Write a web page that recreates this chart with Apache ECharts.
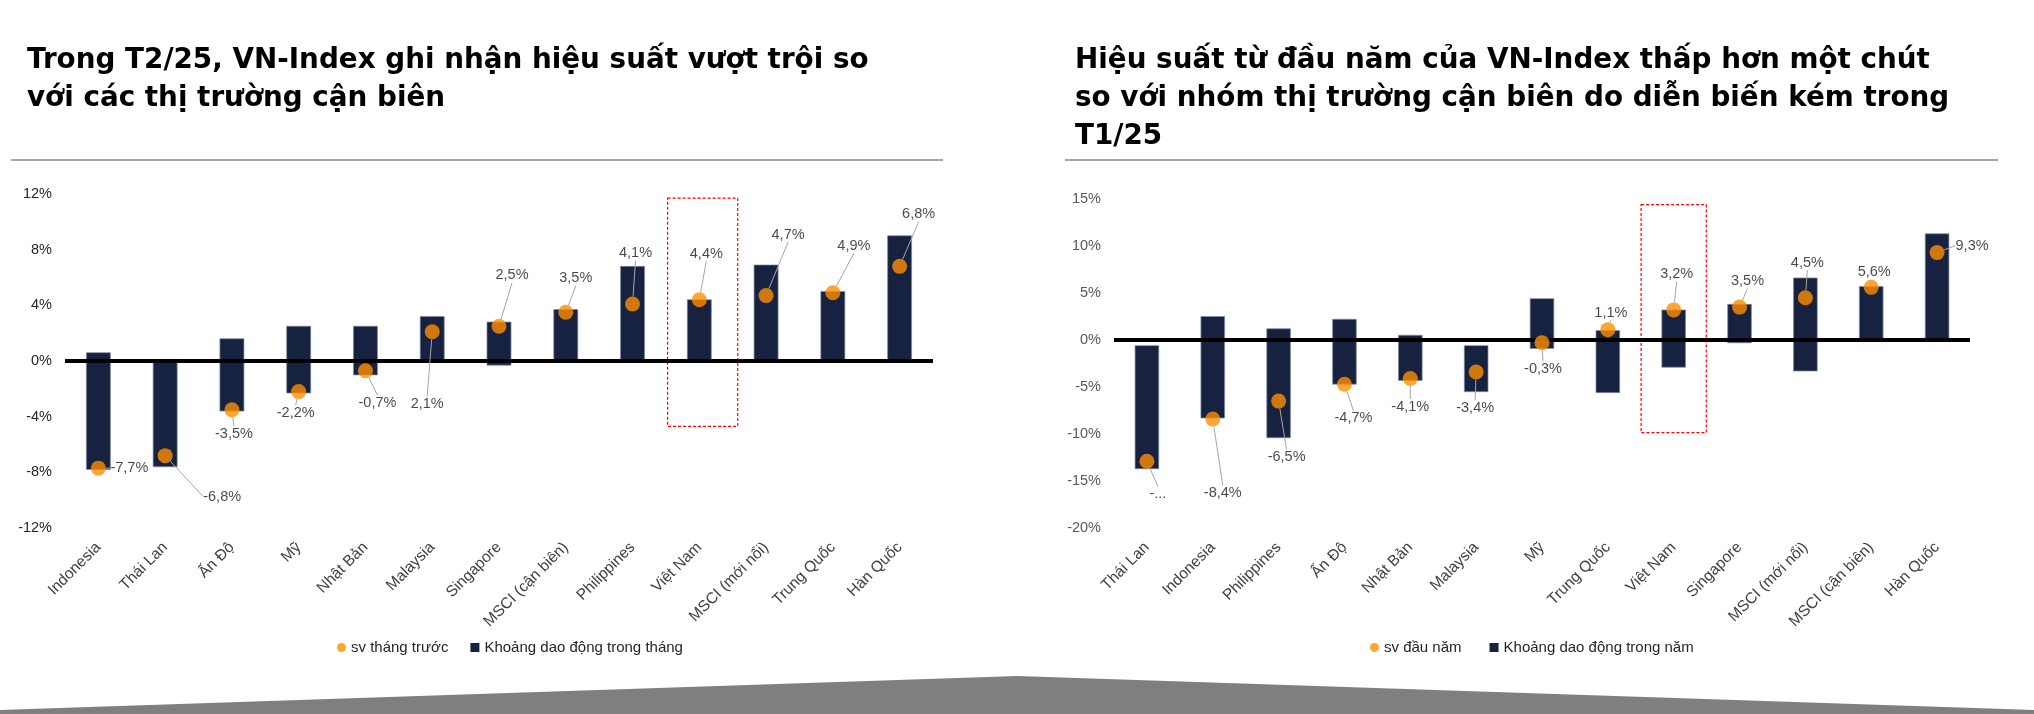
<!DOCTYPE html>
<html>
<head>
<meta charset="utf-8">
<script src="https://cdn.jsdelivr.net/npm/echarts@6/dist/echarts.min.js"></script>
<style>
html,body{margin:0;padding:0;background:#fff;}
#c{width:2034px;height:714px;}
</style>
</head>
<body>
<div id="c"></div>
<script>
// ---------- DATA ----------
const title1 = 'Trong T2/25, VN-Index ghi nhận hiệu suất vượt trội so\nvới các thị trường cận biên';
const title2 = 'Hiệu suất từ đầu năm của VN-Index thấp hơn một chút\nso với nhóm thị trường cận biên do diễn biến kém trong\nT1/25';

const cats1 = ['Indonesia','Thái Lan','Ấn Độ','Mỹ','Nhật Bản','Malaysia','Singapore','MSCI (cận biên)','Philippines','Việt Nam','MSCI (mới nổi)','Trung Quốc','Hàn Quốc'];
const dots1 = [-7.7,-6.8,-3.5,-2.2,-0.7,2.1,2.5,3.5,4.1,4.4,4.7,4.9,6.8];
const low1  = [-7.8,-7.6,-3.6,-2.3,-1.0,0,-0.3,0,0,0,0,0,0];
const high1 = [0.6,0,1.6,2.5,2.5,3.2,2.8,3.7,6.8,4.4,6.9,5.0,9.0];
const yTicks1 = {min:-12, max:12, interval:4};

const cats2 = ['Thái Lan','Indonesia','Philippines','Ấn Độ','Nhật Bản','Malaysia','Mỹ','Trung Quốc','Việt Nam','Singapore','MSCI (mới nổi)','MSCI (cận biên)','Hàn Quốc'];
const dots2 = [-12.9,-8.4,-6.5,-4.7,-4.1,-3.4,-0.3,1.1,3.2,3.5,4.5,5.6,9.3];
const low2  = [-13.7,-8.3,-10.4,-4.7,-4.3,-5.5,-0.9,-5.6,-2.9,-0.3,-3.3,0,0];
const high2 = [-0.6,2.5,1.2,2.2,0.5,-0.6,4.4,1.0,3.2,3.8,6.6,5.7,11.3];
const yTicks2 = {min:-20, max:15, interval:5};
const truncatedCat2 = 'Thái Lan';   // its label is shown cut off as "-..."

const legend1 = ['sv tháng trước','Khoảng dao động trong tháng'];
const legend2 = ['sv đầu năm','Khoảng dao động trong năm'];

const highlightCat = 'Việt Nam';
const box1 = [11.7, -4.7];
const box2 = [14.4, -9.85];

// ---------- STYLE (label displacement from dot, px) ----------
const shift1 = [[31,0],[57,41],[2,24],[-3,21],[12,32],[-5,72],[13,-51],[10,-34],[3,-51],[7,-46],[22,-61],[21,-47],[19,-52]];
const shift2 = [[11,33],[10,74],[8,56],[9,34],[0,28],[-1,36],[1,26],[3,-17],[3,-36],[8,-26],[2,-35],[3,-15],[35,-7]];

const NAVY = '#172241', ORANGE = '#FF8F00';
const fmt = v => v.toFixed(1).replace('.', ',') + '%';

function rangeRender(params, api){
  const x = api.value(0);
  const p1 = api.coord([x, api.value(1)]);
  const p2 = api.coord([x, api.value(2)]);
  const w = api.size([1,0])[0]*0.36;
  return {type:'rect', shape:{x:p1[0]-w/2, y:Math.min(p1[1],p2[1]), width:w, height:Math.abs(p2[1]-p1[1])},
    style:{fill:NAVY, stroke:'rgba(130,140,160,0.9)', lineWidth:0.8}};
}
function boxRender(scale, shiftRatio){
  return function(params, api){
    const x = api.value(0);
    const p1 = api.coord([x, api.value(1)]);
    const p2 = api.coord([x, api.value(2)]);
    const band = api.size([1,0])[0];
    const w = band*scale;
    const cx = p1[0] + band*shiftRatio;
    return {type:'rect', shape:{x:cx-w/2, y:p1[1], width:w, height:p2[1]-p1[1]},
      style:{fill:'none', stroke:'#FF0000', lineWidth:1.2, lineDash:[3,2]}};
  };
}

function buildChart(k, cats, dots, low, high, leg, shift, boxVals, boxScale, boxShift, truncated){
  const series = [];
  series.push({
    type:'custom', name:leg[1], xAxisIndex:k, yAxisIndex:k, z:2,
    itemStyle:{color:NAVY},
    encode:{x:0, y:[1,2]},
    renderItem: rangeRender,
    data: cats.map((c,i)=>[i, low[i], high[i]])
  });
  series.push({
    type:'line', xAxisIndex:k, yAxisIndex:k, z:3, data:[], silent:true,
    markLine:{silent:true, symbol:['none','none'], label:{show:false},
      lineStyle:{color:'#000', width:4, type:'solid'}, data:[{yAxis:0}]}
  });
  series.push({
    type:'custom', xAxisIndex:k, yAxisIndex:k, z:3, silent:true,
    encode:{x:0, y:[1,2]},
    renderItem: boxRender(boxScale, boxShift),
    data: [[cats.indexOf(highlightCat), boxVals[0], boxVals[1]]]
  });
  series.push({
    type:'scatter', name:leg[0], xAxisIndex:k, yAxisIndex:k, z:5,
    symbol:'circle', symbolSize:15,
    itemStyle:{color:ORANGE},
    data: cats.map((c,i)=>[i, dots[i]]),
    label:{show:true, position:'inside', color:'#1a1a1a', fontSize:14.5, fontFamily:'Liberation Sans, Arial',
      formatter: p => (truncated && cats[p.dataIndex]===truncated) ? '-...' : fmt(p.value[1])},
    labelLine:{show:true, lineStyle:{color:'#a6a6a6', width:1}},
    labelLayout: p => ({dx: shift[p.dataIndex][0], dy: shift[p.dataIndex][1]})
  });
  return series;
}

const chart = echarts.init(document.getElementById('c'), null, {renderer:'canvas'});
const axisLabelY = (color)=>({formatter:'{value}%', fontSize:14.5, color:color, margin:13, fontFamily:'Liberation Sans, Arial'});
const xAx = (k, cats)=>({
  type:'category', gridIndex:k, data:cats, boundaryGap:true,
  axisLine:{show:false, onZero:false}, axisTick:{show:false}, splitLine:{show:false},
  axisLabel:{rotate:45, interval:0, fontSize:15.5, color:'#404040', margin:17, fontFamily:'Liberation Sans, Arial'}
});
const yAx = (k, t, color)=>({
  type:'value', gridIndex:k, min:t.min, max:t.max, interval:t.interval,
  axisLine:{show:false}, axisTick:{show:false}, splitLine:{show:false},
  axisLabel: axisLabelY(color)
});
const titleStyle = {fontFamily:'DejaVu Sans', fontWeight:'bold', fontSize:27.8, lineHeight:38, color:'#000'};

const option = {
  animation:false,
  backgroundColor:'#fff',
  title:[
    {text:title1, left:27, top:42, padding:0, textStyle:titleStyle},
    {text:title2, left:1075, top:42, padding:0, textStyle:titleStyle}
  ],
  legend:[
    {data:[{name:legend1[0], icon:'circle'},{name:legend1[1], icon:'rect'}],
      left:337, top:640, itemWidth:9, itemHeight:9, itemGap:22, padding:0, selectedMode:false,
      textStyle:{fontSize:15, color:'#262626', fontFamily:'Liberation Sans, Arial'}},
    {data:[{name:legend2[0], icon:'circle'},{name:legend2[1], icon:'rect'}],
      left:1370, top:640, itemWidth:9, itemHeight:9, itemGap:28, padding:0, selectedMode:false,
      textStyle:{fontSize:15, color:'#262626', fontFamily:'Liberation Sans, Arial'}}
  ],
  grid:[
    {left:65, top:194, width:868, height:334},
    {left:1114, top:199, width:856, height:329}
  ],
  xAxis:[xAx(0,cats1), xAx(1,cats2)],
  yAxis:[yAx(0,yTicks1,'#262626'), yAx(1,yTicks2,'#595959')],
  series:[].concat(
    buildChart(0, cats1, dots1, low1, high1, legend1, shift1, box1, 1.05, 0.05, null),
    buildChart(1, cats2, dots2, low2, high2, legend2, shift2, box2, 0.99, 0, truncatedCat2)
  ),
  graphic:[
    {type:'line', silent:true, shape:{x1:11,y1:160,x2:943,y2:160}, style:{stroke:'#a6a6a6', lineWidth:2}},
    {type:'line', silent:true, shape:{x1:1065,y1:160,x2:1998,y2:160}, style:{stroke:'#a6a6a6', lineWidth:2}},
    {type:'polygon', silent:true, shape:{points:[[0,710],[1017,676],[2034,710],[2034,714],[0,714]]},
      style:{fill:'#7f7f7f'}}
  ]
};
chart.setOption(option);
</script>
</body>
</html>
